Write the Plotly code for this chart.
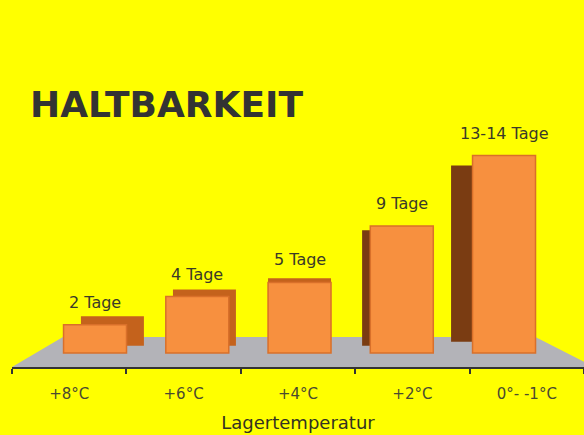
import plotly.graph_objects as go

# Daten
temperaturen = ['+8°C', '+6°C', '+4°C', '+2°C', '0°- -1°C']
haltbarkeit_tage = [2, 4, 5, 9, 14]
beschriftung = ['2 Tage', '4 Tage', '5 Tage', '9 Tage', '13-14 Tage']

# Stil für den 3D-Effekt (Seitenflächen)
seite_versatz = [0.17, 0.07, 0.0, -0.08, -0.21]
seite_basis = [0.5, 0.5, 0.4, 0.5, 0.8]
seite_oben = [0.6, 0.5, 0.3, -0.3, -0.7]
seite_farbe = ['#C4621C', '#C4621C', '#C4621C', '#7A3C12', '#7A3C12']

breite = 0.616

# unsichtbare Spur, damit die Kategorie-Achse gezeichnet wird
achse = go.Scatter(x=temperaturen, y=[0] * len(temperaturen), mode='none',
                   hoverinfo='skip', showlegend=False)

seite = go.Bar(
    x=temperaturen,
    y=[v + o - b for v, o, b in zip(haltbarkeit_tage, seite_oben, seite_basis)],
    base=seite_basis,
    xaxis='x2',
    width=breite,
    offset=[-breite / 2 + d for d in seite_versatz],
    marker=dict(color=seite_farbe, line=dict(width=0)),
    hoverinfo='skip',
    showlegend=False,
)

front = go.Bar(
    x=temperaturen,
    y=haltbarkeit_tage,
    xaxis='x2',
    width=breite,
    offset=-breite / 2,
    marker=dict(color='#F7903F', line=dict(color='#D9702A', width=1.5)),
    showlegend=False,
)

fig = go.Figure(data=[achse, seite, front])

for t, v, txt in zip(temperaturen, haltbarkeit_tage, beschriftung):
    fig.add_annotation(
        x=t, y=v, xref='x2', yref='y', text=txt, showarrow=False,
        yanchor='bottom', yshift=11,
        font=dict(family='DejaVu Sans', size=16, color='#3a3a28'),
    )

# grauer Boden
fig.add_shape(
    type='path', xref='paper', yref='paper', layer='below',
    path='M 0 0 L 0.089 0.112 L 0.915 0.112 L 1 0.02 L 1 0 Z',
    fillcolor='#B3B3B8', line=dict(width=0),
)

fig.update_layout(
    width=584, height=435,
    paper_bgcolor='#FFFF00',
    plot_bgcolor='rgba(0,0,0,0)',
    barmode='overlay',
    margin=dict(l=12, r=0, t=100, b=68),
    title=dict(
        text='<b>HALTBARKEIT</b>', xref='container', yref='container',
        x=30 / 584, xanchor='left', y=1 - 104 / 435, yanchor='middle',
        font=dict(family='DejaVu Sans', size=36, color='#333333'),
    ),
    xaxis=dict(
        type='category', categoryorder='array', categoryarray=temperaturen,
        range=[-0.5, 4.5], showline=True, linecolor='#333333', linewidth=2,
        ticks='outside', tickson='boundaries', ticklen=5, tickwidth=2, tickcolor='#333333',
        tickfont=dict(family='DejaVu Sans', size=15, color='#4a4a30'),
        ticklabelstandoff=12, showgrid=False, zeroline=False,
        title=dict(text='Lagertemperatur', standoff=14,
                   font=dict(family='DejaVu Sans', size=18, color='#333322')),
    ),
    xaxis2=dict(
        type='category', categoryorder='array', categoryarray=temperaturen,
        overlaying='x', range=[-0.812, 4.782], visible=False,
    ),
    yaxis=dict(range=[-1, 17.94], visible=False, showgrid=False, zeroline=False),
)

fig.write_html('out.html', config={'displayModeBar': False},
               post_script="document.body.style.margin='0';")
